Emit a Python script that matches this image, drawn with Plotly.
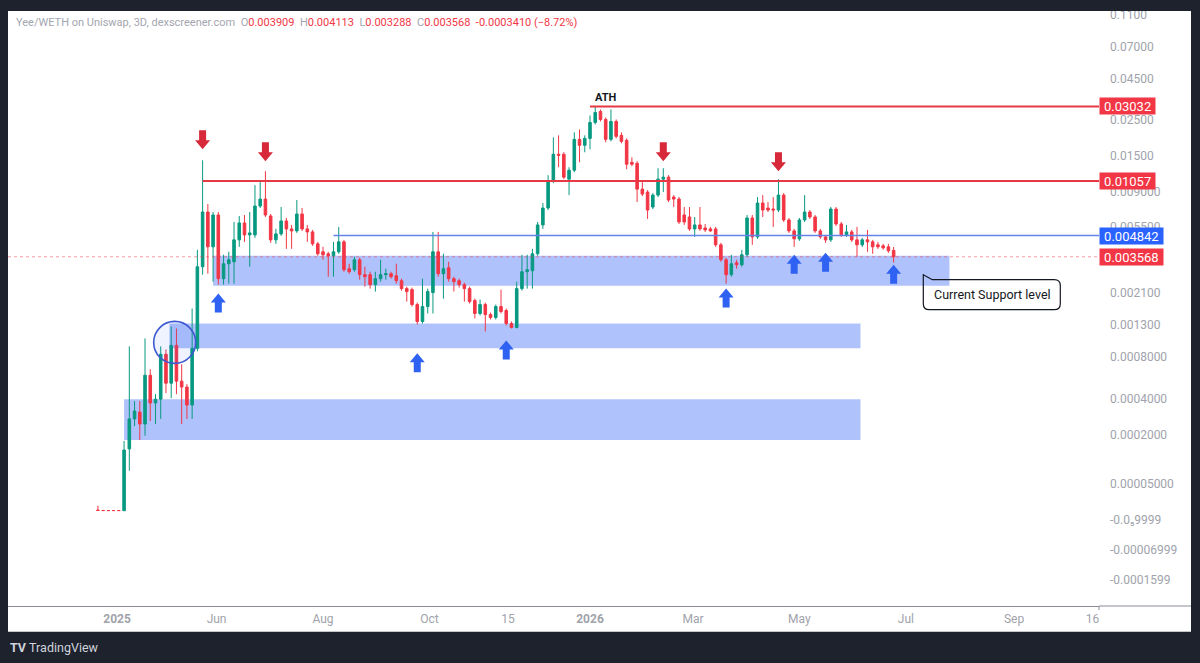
import numpy as np
import pandas as pd
import plotly.graph_objects as go

# ---------------------------------------------------------------- data
FIRST_BAR = "2025-03-25"          # 3-day candles
BAR_FREQ = "3D"

opens = [
    0.0000040, 0.0000034, 0.0000033, 0.0000033, 0.0000033,
    0.0000031, 0.000146, 0.000275, 0.000313, 0.000249, 0.000593, 0.000369, 0.000395, 0.000831, 0.000520,
    0.000955, 0.000538, 0.000487, 0.000356, 0.000912, 0.003090, 0.006790, 0.004121, 0.006507, 0.002596,
    0.003227, 0.003321, 0.004555, 0.005807, 0.004893, 0.004893, 0.007393, 0.008165, 0.006415, 0.004555,
    0.004963, 0.005974, 0.005331, 0.005181, 0.006600, 0.005331, 0.005107, 0.004302, 0.003836, 0.003727,
    0.003622, 0.003836, 0.004427, 0.003002, 0.002959, 0.003419, 0.002752, 0.002752, 0.002380, 0.002596,
    0.002752, 0.002792, 0.002712, 0.002522, 0.002245, 0.002212, 0.001774, 0.001377, 0.001722, 0.002117,
    0.003836, 0.002792, 0.003045, 0.002596, 0.002522, 0.002380, 0.002245, 0.001882, 0.001552, 0.001774,
    0.001529, 0.001462, 0.001722, 0.001623, 0.001336, 0.001258, 0.002245, 0.002874, 0.002916, 0.003727,
    0.005644, 0.007186, 0.01053, 0.01542, 0.01542, 0.01084, 0.01230, 0.01904, 0.01750, 0.01931,
    0.02419, 0.02823, 0.02523, 0.01904, 0.02453, 0.02015, 0.01878, 0.01377, 0.01358, 0.009407,
    0.009016, 0.007289, 0.008641, 0.01084, 0.01115, 0.008400, 0.008165, 0.006507, 0.006324, 0.005331,
    0.005644, 0.005407, 0.005331, 0.005331, 0.004241, 0.003419, 0.002752, 0.003273, 0.003180, 0.003674,
    0.006235, 0.004755, 0.007715, 0.007186, 0.007085, 0.006985, 0.008641, 0.006060, 0.005181, 0.004621,
    0.006060, 0.006790, 0.006324, 0.005181, 0.004755, 0.004555, 0.007085, 0.005725, 0.004893, 0.005107,
    0.004555, 0.004241, 0.004555, 0.004427, 0.004241, 0.004180, 0.004121, 0.003909,
]
highs = [
    0.0000105, 0.0000040, 0.0000036, 0.0000035, 0.0000035,
    0.000175, 0.000941, 0.000382, 0.000382, 0.001064, 0.000655, 0.000431, 0.000941, 0.000898, 0.001277,
    0.001239, 0.000709, 0.000512, 0.001672, 0.003947, 0.01417, 0.007606, 0.006790, 0.006790, 0.003674,
    0.003836, 0.005890, 0.006415, 0.006507, 0.006790, 0.009955, 0.01039, 0.01213, 0.006600, 0.005331,
    0.007289, 0.006235, 0.005644, 0.008050, 0.007186, 0.005644, 0.005255, 0.004427, 0.004121, 0.003836,
    0.004427, 0.005485, 0.004555, 0.003227, 0.003570, 0.003519, 0.003090, 0.002874, 0.002874, 0.003419,
    0.003002, 0.002874, 0.003227, 0.002596, 0.002311, 0.002278, 0.001827, 0.002596, 0.002245, 0.005107,
    0.005107, 0.003727, 0.003321, 0.002673, 0.002596, 0.002450, 0.002311, 0.001938, 0.001910, 0.001827,
    0.001575, 0.001774, 0.002212, 0.001672, 0.001377, 0.002486, 0.003674, 0.003674, 0.004004, 0.005890,
    0.007715, 0.01147, 0.01959, 0.02015, 0.01586, 0.01284, 0.02102, 0.02192, 0.02015, 0.02669,
    0.03032, 0.02904, 0.02595, 0.02904, 0.02523, 0.02102, 0.01931, 0.01478, 0.01397, 0.01039,
    0.009275, 0.008889, 0.01266, 0.01266, 0.01147, 0.008641, 0.008400, 0.007289, 0.007289, 0.006324,
    0.007289, 0.005725, 0.005485, 0.005485, 0.004364, 0.003519, 0.003674, 0.003419, 0.003947, 0.006507,
    0.006507, 0.008400, 0.008641, 0.007825, 0.008400, 0.01084, 0.008889, 0.006235, 0.005331, 0.006235,
    0.008641, 0.006985, 0.006507, 0.005331, 0.004893, 0.007289, 0.007289, 0.005890, 0.005644, 0.005255,
    0.005485, 0.004687, 0.005255, 0.004555, 0.004427, 0.004302, 0.004302, 0.004113,
]
lows = [
    0.0000030, 0.0000030, 0.0000030, 0.0000030, 0.0000030,
    0.0000028, 0.000081, 0.000239, 0.000179, 0.000196, 0.000264, 0.000249, 0.000275, 0.000439, 0.000402,
    0.000431, 0.000249, 0.000275, 0.000275, 0.000871, 0.002752, 0.002792, 0.002486, 0.002380, 0.002380,
    0.002415, 0.002415, 0.004121, 0.004427, 0.003090, 0.004687, 0.007186, 0.006324, 0.004364, 0.004302,
    0.004823, 0.004004, 0.004004, 0.005035, 0.005181, 0.004427, 0.004180, 0.003622, 0.003419, 0.002673,
    0.002673, 0.003727, 0.002874, 0.002792, 0.002874, 0.002559, 0.002311, 0.002245, 0.002148, 0.002486,
    0.002559, 0.002596, 0.002415, 0.002180, 0.001854, 0.001722, 0.001316, 0.001336, 0.001552, 0.001552,
    0.002673, 0.001938, 0.002486, 0.002148, 0.002278, 0.001854, 0.001800, 0.001440, 0.001506, 0.001184,
    0.001419, 0.001419, 0.001552, 0.001297, 0.001239, 0.001239, 0.002180, 0.002245, 0.002245, 0.003622,
    0.005331, 0.006985, 0.01024, 0.01284, 0.01084, 0.008641, 0.01196, 0.01377, 0.01586, 0.01654,
    0.02352, 0.02453, 0.01826, 0.01852, 0.01931, 0.01800, 0.01248, 0.01302, 0.007825, 0.008520,
    0.006147, 0.007085, 0.008400, 0.009016, 0.007825, 0.007289, 0.005725, 0.005644, 0.005181, 0.004755,
    0.005181, 0.005107, 0.005107, 0.004121, 0.003321, 0.002415, 0.002673, 0.003002, 0.003090, 0.003570,
    0.004241, 0.004621, 0.006324, 0.006790, 0.005485, 0.006790, 0.005890, 0.005035, 0.004121, 0.004491,
    0.005890, 0.006147, 0.005035, 0.004621, 0.004364, 0.004427, 0.005564, 0.004755, 0.004755, 0.004427,
    0.003570, 0.004121, 0.003836, 0.003727, 0.004004, 0.003947, 0.003781, 0.003288,
]
closes = [
    0.0000034, 0.0000033, 0.0000033, 0.0000033, 0.0000033,
    0.000142, 0.000275, 0.000319, 0.000249, 0.000593, 0.000369, 0.000395, 0.000831, 0.000520, 0.000955,
    0.000538, 0.000487, 0.000356, 0.000912, 0.003090, 0.006790, 0.004121, 0.006507, 0.002596, 0.003227,
    0.003419, 0.004555, 0.005807, 0.004893, 0.005035, 0.007393, 0.008165, 0.006507, 0.004555, 0.004963,
    0.005974, 0.005331, 0.005181, 0.006600, 0.005331, 0.005107, 0.004302, 0.003727, 0.003674, 0.003622,
    0.003836, 0.004427, 0.002959, 0.002874, 0.003419, 0.002752, 0.002673, 0.002380, 0.002596, 0.002752,
    0.002792, 0.002673, 0.002522, 0.002245, 0.002148, 0.001774, 0.001377, 0.001722, 0.002148, 0.003836,
    0.002792, 0.003002, 0.002596, 0.002486, 0.002380, 0.002245, 0.001854, 0.001552, 0.001774, 0.001529,
    0.001462, 0.001722, 0.001599, 0.001336, 0.001258, 0.002245, 0.002874, 0.002959, 0.003727, 0.005644,
    0.007186, 0.01053, 0.01542, 0.01520, 0.01115, 0.01230, 0.01904, 0.01750, 0.01931, 0.02419,
    0.02784, 0.02523, 0.01904, 0.02453, 0.01987, 0.01852, 0.01339, 0.01339, 0.009407, 0.008764,
    0.006985, 0.008641, 0.01084, 0.01115, 0.008050, 0.008165, 0.005890, 0.005890, 0.005331, 0.005644,
    0.005331, 0.005255, 0.005181, 0.004241, 0.003419, 0.002752, 0.003227, 0.003180, 0.003674, 0.006235,
    0.004755, 0.007715, 0.006985, 0.006985, 0.006985, 0.008641, 0.006060, 0.005181, 0.004621, 0.006060,
    0.006790, 0.006324, 0.005181, 0.004755, 0.004555, 0.007085, 0.005725, 0.004893, 0.005107, 0.004555,
    0.004241, 0.004555, 0.004427, 0.004121, 0.004121, 0.004062, 0.003891, 0.003568,
]

# price-scale labels (as printed by the source chart)
ytick_prices = [0.11, 0.07, 0.045, 0.025, 0.015, 0.009, 0.0055, 0.0021, 0.0013,
                0.0008, 0.0004, 0.0002, 0.00005]
ytick_text = ["0.1100", "0.07000", "0.04500", "0.02500", "0.01500", "0.009000", "0.005500",
              "0.002100", "0.001300", "0.0008000", "0.0004000", "0.0002000", "0.00005000"]
yodd_text = ["-0.0\u20859999", "-0.00006999", "-0.0001599"]

# time-scale labels
xtick_dates = ["2025-04-05", "2025-06-01", "2025-08-01", "2025-10-01", "2025-11-15",
               "2026-01-01", "2026-03-01", "2026-05-01", "2026-07-01", "2026-09-01", "2026-10-16"]
xtick_text = ["<b>2025</b>", "Jun", "Aug", "Oct", "15", "<b>2026</b>", "Mar", "May", "Jul", "Sep", "16"]

# horizontal levels
level_prices = [0.03032, 0.01057, 0.004842]
level_start_bar = [94, 20, 45]
level_text = ["0.03032", "0.01057", "0.004842"]
last_close = 0.003568

# support zones
zone_start = ["2025-05-30", "2025-05-05", "2025-04-09"]
zone_end = ["2026-07-26", "2026-06-05", "2026-06-05"]
zone_top = [0.003622, 0.001336, 0.000395]
zone_bottom = [0.002345, 0.000912, 0.000179]

# arrows (bar index, tip price)
down_bars = [20, 32, 108, 130]
down_tip = [0.01654, 0.01397, 0.01397, 0.01213]
up_bars = [23, 61, 78, 120, 133, 139, 152]
up_tip = [0.002086, 0.000844, 0.001032, 0.002245, 0.003674, 0.003781, 0.003180]

circle_date, circle_price = "2025-05-08", 0.0010
bubble_date, bubble_price = "2026-07-11", 0.002752
ath_bar = 97

# ---------------------------------------------------------------- geometry / style
W, H = 1200, 663
PL, PR, PT, PB = 8, 1099, 8, 606          # plot area (px)
OFFSET = 1e-4                              # price-scale transform offset
PX_DEC, PX_OFF = 164.5, 145.6              # px per decade, px offset
ANCHOR, ANCHOR_PX, PX_DAY = pd.Timestamp("2026-01-01"), 590, 1.745

GREEN, RED, BLUE = "#089981", "#f23645", "#2962ff"
AX_GRAY = "#a0a3ab"
DARK = "#1e222d"
FONT = "Roboto"


def ty(p):
    return np.log10(np.asarray(p, dtype=float) + OFFSET)


def u_of_px(py):
    return -(py + PX_OFF) / PX_DEC


def fx(px):
    return (px - PL) / (PR - PL)


def fy(py):
    return (PB - py) / (PB - PT)


dates = pd.date_range(FIRST_BAR, periods=len(opens), freq=BAR_FREQ)
x_lo = ANCHOR - pd.Timedelta(days=(ANCHOR_PX - PL) / PX_DAY)
x_hi = ANCHOR + pd.Timedelta(days=(PR - ANCHOR_PX) / PX_DAY)

fig = go.Figure()
fig.add_trace(go.Candlestick(
    x=dates, open=ty(opens), high=ty(highs), low=ty(lows), close=ty(closes),
    increasing=dict(line=dict(color=GREEN, width=1), fillcolor=GREEN),
    decreasing=dict(line=dict(color=RED, width=1), fillcolor=RED),
    showlegend=False, hoverinfo="skip",
))

shapes = []
# white chart canvas (price scale + time scale included)
shapes.append(dict(type="rect", xref="paper", yref="paper", layer="below",
                   x0=fx(PL), x1=fx(1191), y0=fy(632), y1=fy(PT),
                   fillcolor="white", line=dict(width=0)))
# zones
for s, e, t, b in zip(zone_start, zone_end, zone_top, zone_bottom):
    shapes.append(dict(type="rect", xref="x", yref="y", layer="below",
                       x0=s, x1=e, y0=float(ty(b)), y1=float(ty(t)),
                       fillcolor="rgba(66,110,245,0.42)", line=dict(width=0)))
# current price dotted line
shapes.append(dict(type="line", xref="x", yref="y", x0=x_lo, x1=x_hi,
                   y0=float(ty(last_close)), y1=float(ty(last_close)),
                   line=dict(color="rgba(242,54,69,0.5)", width=1, dash="dot")))
# levels
level_colors = ["#e53945", "#e53945", "#6383ea"]
level_w = [2, 2, 1.5]
for p, sb, c, w in zip(level_prices, level_start_bar, level_colors, level_w):
    shapes.append(dict(type="line", xref="x", yref="y", x0=dates[sb], x1=x_hi,
                       y0=float(ty(p)), y1=float(ty(p)), line=dict(color=c, width=w)))
# circle
shapes.append(dict(type="circle", xref="x", yref="y", xsizemode="pixel", ysizemode="pixel",
                   xanchor=circle_date, yanchor=float(ty(circle_price)),
                   x0=-21, x1=21, y0=-21, y1=21,
                   fillcolor="rgba(41,98,255,0.08)", line=dict(color="#3d58d0", width=1.6)))
# arrows
down_path = "M0,0 L-7.5,9 L-3.5,9 L-3.5,19 L3.5,19 L3.5,9 L7.5,9 Z"
up_path = "M0,0 L-7.5,-9 L-3.5,-9 L-3.5,-19 L3.5,-19 L3.5,-9 L7.5,-9 Z"
for b, p in zip(down_bars, down_tip):
    shapes.append(dict(type="path", xref="x", yref="y", xsizemode="pixel", ysizemode="pixel",
                       xanchor=dates[b], yanchor=float(ty(p)), path=down_path,
                       fillcolor="#d8293a", line=dict(width=0)))
for b, p in zip(up_bars, up_tip):
    shapes.append(dict(type="path", xref="x", yref="y", xsizemode="pixel", ysizemode="pixel",
                       xanchor=dates[b], yanchor=float(ty(p)), path=up_path,
                       fillcolor="#2f62f2", line=dict(width=0)))
# callout bubble
bubble_path = ("M0,0 L9,-5 L131,-5 Q137,-5 137,-11 L137,-29 Q137,-35 131,-35 "
               "L6,-35 Q0,-35 0,-29 Z")
shapes.append(dict(type="path", xref="x", yref="y", xsizemode="pixel", ysizemode="pixel",
                   xanchor=bubble_date, yanchor=float(ty(bubble_price)), path=bubble_path,
                   fillcolor="rgba(255,255,255,0)", line=dict(color="#131722", width=1.2)))
# time-scale line extension + tick under the price scale
shapes.append(dict(type="line", xref="paper", yref="paper", x0=fx(PR), x1=fx(1191),
                   y0=0, y1=0, line=dict(color="#8a8d96", width=1)))
shapes.append(dict(type="line", xref="paper", yref="paper", x0=fx(PR), x1=fx(PR),
                   y0=fy(606), y1=fy(610), line=dict(color="#8a8d96", width=1)))
# dark frame on top (clips the topmost label)
shapes.append(dict(type="rect", xref="paper", yref="paper", layer="above",
                   x0=fx(0), x1=fx(W), y0=fy(PT), y1=fy(0),
                   fillcolor=DARK, line=dict(width=0)))

annotations = []
# header
g, r = "#a3a6af", RED
header = (f"<span style='color:{g}'>Yee/WETH on Uniswap, 3D, dexscreener.com</span>\u00a0\u00a0"
          f"<span style='color:{g}'>O</span><span style='color:{r}'>0.003909</span>\u00a0\u00a0"
          f"<span style='color:{g}'>H</span><span style='color:{r}'>0.004113</span>\u00a0\u00a0"
          f"<span style='color:{g}'>L</span><span style='color:{r}'>0.003288</span>\u00a0\u00a0"
          f"<span style='color:{g}'>C</span><span style='color:{r}'>0.003568</span>\u00a0\u00a0"
          f"<span style='color:{r}'>-0.0003410 (\u22128.72%)</span>")
annotations.append(dict(xref="paper", yref="paper", x=fx(14), y=fy(20), xanchor="left",
                        yanchor="middle", text=header, showarrow=False,
                        font=dict(family=FONT, size=11, color=g)))
# ATH
annotations.append(dict(xref="x", yref="y", x=dates[ath_bar], y=float(ty(level_prices[0])),
                        yshift=9, text="<b>ATH</b>", showarrow=False,
                        font=dict(family=FONT, size=11, color="#131722")))
# price labels on the scale
for txt, p, bg in zip(level_text + [f"{last_close:.6f}"], level_prices + [last_close],
                      [RED, RED, BLUE, RED]):
    annotations.append(dict(xref="paper", yref="y", x=1, y=float(ty(p)), xanchor="left",
                            yanchor="middle", text=txt, showarrow=False, bgcolor=bg,
                            width=7.6 * len(txt), height=14, borderpad=1, align="center",
                            font=dict(family=FONT, size=13, color="white")))
# callout text
annotations.append(dict(xref="x", yref="y", x=bubble_date, y=float(ty(bubble_price)),
                        xshift=69, yshift=-20, text="Current Support level", showarrow=False,
                        font=dict(family=FONT, size=12.5, color="#131722")))
# TradingView footer
annotations.append(dict(xref="paper", yref="paper", x=fx(8), y=fy(648), xanchor="left",
                        yanchor="middle", showarrow=False,
                        text="<b>TV</b>\u00a0TradingView",
                        font=dict(family=FONT, size=12.5, color="#d1d4dc")))

yvals = list(ty(ytick_prices)) + [u_of_px(py) for py in (519, 550, 580)]
ytext = ytick_text + yodd_text

fig.update_layout(
    width=W, height=H,
    margin=dict(l=PL, r=W - PR, t=PT, b=H - PB, pad=0),
    paper_bgcolor=DARK, plot_bgcolor="white",
    shapes=shapes, annotations=annotations,
    xaxis=dict(type="date", range=[x_lo, x_hi], rangeslider=dict(visible=False),
               showgrid=False, zeroline=False, showline=True, linecolor="#8a8d96", linewidth=1,
               tickvals=xtick_dates, ticktext=xtick_text, ticks="",
               ticklabelstandoff=2,
               tickfont=dict(family=FONT, size=12, color=AX_GRAY), fixedrange=True),
    yaxis=dict(range=[u_of_px(PB), u_of_px(PT)], side="right", showgrid=False,
               zeroline=False, showline=False, tickvals=yvals, ticktext=ytext, ticks="",
               ticklabelstandoff=10,
               tickfont=dict(family=FONT, size=12, color=AX_GRAY), fixedrange=True),
    showlegend=False,
)

fig.write_html("out.html")
